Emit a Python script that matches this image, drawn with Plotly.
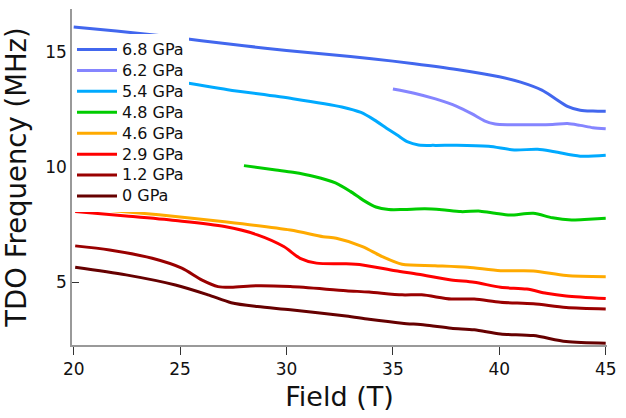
import plotly.graph_objects as go

# ---- data ----
labels = ["6.8 GPa", "6.2 GPa", "5.4 GPa", "4.8 GPa", "4.6 GPa", "2.9 GPa", "1.2 GPa", "0 GPa"]
colors = ["#4267ee", "#8585ff", "#00aaff", "#00cc00", "#ffaa00", "#ff0000", "#990000", "#660000"]

field_68 = [20, 22, 24, 26, 28, 30, 32, 34, 36, 38, 40, 41, 42, 42.6, 43.2, 43.8, 44.4, 45]
freq_68 = [16.10, 15.92, 15.73, 15.50, 15.28, 15.08, 14.90, 14.72, 14.50, 14.25, 13.93, 13.70, 13.35, 13.00, 12.65, 12.48, 12.44, 12.43]

field_62 = [35.0, 36.0, 37.0, 38.0, 38.7, 39.3, 39.8, 40.5, 41.5, 42.5, 43.2, 43.8, 44.4, 45]
freq_62 = [13.40, 13.22, 12.97, 12.65, 12.33, 12.02, 11.88, 11.85, 11.85, 11.86, 11.90, 11.82, 11.72, 11.67]

field_54 = [20, 22.5, 25.15, 27.24, 30.3, 32.6, 33.5, 34.12, 34.7, 35.2, 35.7, 36.2, 37.0, 38.0, 39.5, 40.7, 41.8, 42.6, 43.8, 45]
freq_54 = [14.35, 14.02, 13.68, 13.37, 12.98, 12.62, 12.38, 12.06, 11.70, 11.40, 11.10, 10.97, 10.95, 10.96, 10.91, 10.75, 10.78, 10.67, 10.48, 10.52]

field_48 = [28.0, 29.5, 30.3, 31.3, 32.3, 33.0, 33.6, 34.2, 34.8, 35.5, 36.5, 37.3, 38.2, 39.1, 39.8, 40.5, 41.6, 42.5, 43.4, 44.2, 45]
freq_48 = [10.07, 9.88, 9.78, 9.60, 9.32, 8.95, 8.57, 8.27, 8.16, 8.16, 8.19, 8.15, 8.07, 8.09, 8.00, 7.92, 8.00, 7.80, 7.71, 7.74, 7.78]

field_46 = [20, 21.07, 24.0, 27.09, 30.18, 31.72, 32.34, 33.57, 34.50, 35.43, 36.97, 38.51, 40.06, 41.60, 43.14, 45]
freq_46 = [8.25, 8.17, 7.93, 7.63, 7.27, 6.98, 6.91, 6.55, 6.11, 5.78, 5.72, 5.65, 5.50, 5.49, 5.29, 5.24]

field_29 = [20.07, 22.46, 24.78, 27.09, 28.63, 29.87, 30.64, 31.41, 32.80, 33.57, 35.12, 36.19, 37.74, 38.82, 40.06, 41.29, 42.21, 43.14, 45]
freq_29 = [8.07, 7.88, 7.68, 7.42, 7.06, 6.55, 6.04, 5.83, 5.80, 5.75, 5.50, 5.35, 5.10, 5.00, 4.78, 4.70, 4.52, 4.40, 4.29]

field_12 = [20.07, 21.69, 23.69, 25.08, 26.01, 26.78, 27.40, 28.63, 30.18, 32.80, 33.88, 35.43, 36.35, 37.74, 38.82, 40.06, 41.60, 43.14, 45]
freq_12 = [6.58, 6.40, 6.04, 5.61, 5.10, 4.81, 4.78, 4.85, 4.81, 4.63, 4.57, 4.45, 4.45, 4.27, 4.27, 4.13, 4.06, 3.90, 3.84]

field_0 = [20.07, 22.46, 24.78, 26.32, 27.40, 28.63, 30.18, 32.80, 33.88, 35.43, 36.50, 37.74, 38.82, 40.06, 41.60, 43.14, 45]
freq_0 = [5.65, 5.32, 4.88, 4.45, 4.11, 3.94, 3.80, 3.53, 3.39, 3.22, 3.14, 3.00, 2.93, 2.75, 2.68, 2.42, 2.35]

x_ticks = [20, 25, 30, 35, 40, 45]
y_ticks = [5, 10, 15]

series = [
    (field_68, freq_68), (field_62, freq_62), (field_54, freq_54), (field_48, freq_48),
    (field_46, freq_46), (field_29, freq_29), (field_12, freq_12), (field_0, freq_0),
]

FONT = "DejaVu Sans"

fig = go.Figure()
for (xs, ys), name, col in zip(series, labels, colors):
    fig.add_trace(go.Scatter(
        x=xs, y=ys, mode="lines",
        name='<span style="font-size:16px">' + name + '</span>',
        line=dict(color=col, width=3, shape="spline", smoothing=0.8),
    ))

fig.update_layout(
    width=626, height=418,
    margin=dict(l=72, r=11, t=9, b=73),
    paper_bgcolor="white", plot_bgcolor="white",
    font=dict(family=FONT, color="#111"),
    showlegend=True,
    legend=dict(
        x=0, y=0.9256, xanchor="left", yanchor="top",
        bgcolor="white", borderwidth=0,
        font=dict(family=FONT, size=13.8, color="#111"),
        itemwidth=40, tracegroupgap=0,
    ),
    xaxis=dict(
        range=[19.92, 45.06], tickvals=x_ticks, ticktext=[str(v) for v in x_ticks],
        showgrid=False, zeroline=False,
        showline=True, linecolor="#999", linewidth=1.5,
        ticks="outside", ticklen=8, tickcolor="#333", tickwidth=1,
        tickfont=dict(family=FONT, size=17, color="#111"),
        title=dict(text="Field (T)", font=dict(family=FONT, size=27, color="#111"), standoff=9),
    ),
    yaxis=dict(
        range=[2.27, 16.88], tickvals=y_ticks, ticktext=[str(v) for v in y_ticks],
        showgrid=False, zeroline=False,
        showline=True, linecolor="#999", linewidth=1.5,
        ticks="inside", ticklen=7, tickcolor="#333", tickwidth=1,
        tickfont=dict(family=FONT, size=17, color="#111"),
        title=dict(text="TDO Frequency (MHz)", font=dict(family=FONT, size=27.5, color="#111"), standoff=11),
    ),
)

# remove the browser's default 8px body margin so the 626x418 figure fills the window
fig.write_html(
    "out.html",
    config={"displayModeBar": False},
    post_script="document.body.style.margin='0px';",
)
